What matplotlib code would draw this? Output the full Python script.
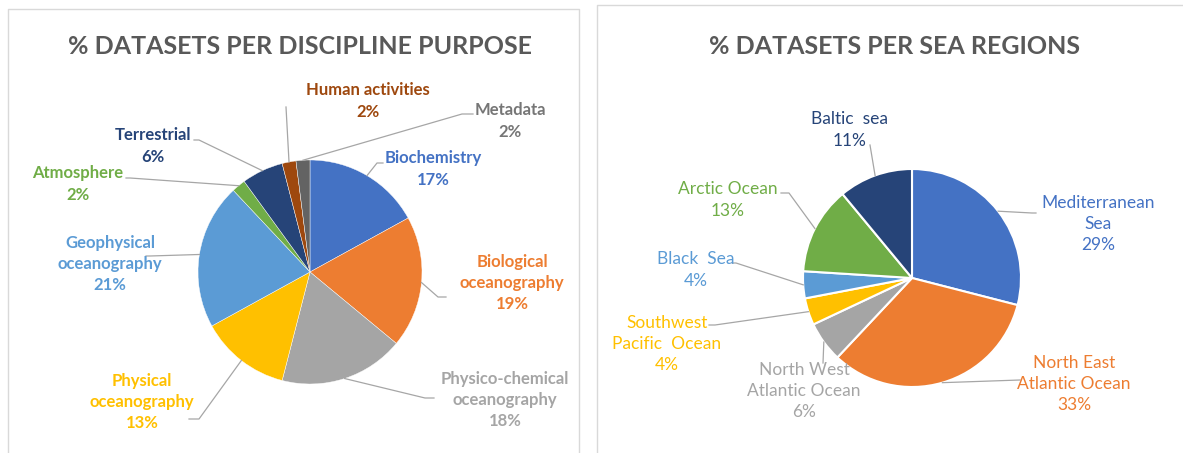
import matplotlib.pyplot as plt
import numpy as np

plt.rcParams['font.family'] = ['Lato', 'DejaVu Sans']

# left chart: datasets per discipline purpose
disc_names = ['Biochemistry', 'Biological\noceanography', 'Physico-chemical\noceanography',
              'Physical\noceanography', 'Geophysical\noceanography', 'Atmosphere',
              'Terrestrial', 'Human activities', 'Metadata']
disc_pct = [17, 19, 18, 13, 21, 2, 6, 2, 2]

# right chart: datasets per sea region
sea_names = ['Mediterranean\nSea', 'North East\nAtlantic Ocean', 'North West\nAtlantic Ocean',
             'Southwest\nPacific  Ocean', 'Black  Sea', 'Arctic Ocean', 'Baltic  sea']
sea_pct = [29, 33, 6, 4, 4, 13, 11]

office = ['#4472C4', '#ED7D31', '#A5A5A5', '#FFC000', '#5B9BD5', '#70AD47', '#264478', '#9E480E', '#636363']
disc_text_colors = office[:8] + ['#767676']
sea_text_colors = office[:7]

# layout in pixel coords (y down): label centres and leader elbow / end points
disc_label_xy = [(433, 169), (512, 283), (505, 400), (142, 402), (110, 264),
                 (78, 184), (153, 146), (368, 101), (510, 121)]
disc_leader = [((377, 163), (383, 163)), ((438, 297), (446, 297)), ((425, 398), (434, 398)),
               ((199, 419), (189, 419)), ((150, 256), (146, 256)), ((130, 178), (126, 178)),
               ((199, 140), (194, 140)), ((286, 107), (286, 107)), ((462, 114), (473, 114))]
sea_label_xy = [(1098, 224), (1074, 384), (804, 391), (667, 344), (696, 270), (728, 200), (850, 130)]
sea_leader = [((1032, 213), (1036, 213)), ((1020, 380), (1020, 380)), ((823, 363), (823, 363)),
              ((715, 325), (709, 325)), ((736, 263), (732, 263)), ((789, 193), (781, 193)),
              ((870, 145), (870, 145))]


def draw_pie(ax, names, values, colors, text_colors, center, radius, label_xy, leader,
             weight, size, edge):
    ax.pie(values, colors=colors, startangle=-90, counterclock=True, center=center,
           radius=radius, wedgeprops=dict(edgecolor='white', linewidth=edge))
    total = float(sum(values))
    cum = np.cumsum([0] + list(values))
    for i, (name, v) in enumerate(zip(names, values)):
        # mid angle, clockwise from 12 o'clock
        a = np.radians((cum[i] + v / 2) / total * 360)
        px = center[0] + radius * np.sin(a)
        py = center[1] - radius * np.cos(a)
        (ex, ey), (fx, fy) = leader[i]
        ax.plot([px, ex, fx], [py, ey, fy], color='#A6A6A6', lw=0.9, zorder=3)
        ax.text(label_xy[i][0], label_xy[i][1], f'{name}\n{v}%', ha='center', va='center',
                color=text_colors[i], fontsize=size, fontweight=weight, linespacing=1.42, zorder=4)


fig = plt.figure(figsize=(11.83, 4.53), dpi=100)
ax = fig.add_axes([0, 0, 1, 1])

draw_pie(ax, disc_names, disc_pct, office, disc_text_colors, (310, 272), 112,
         disc_label_xy, disc_leader, 'bold', 12, 0.3)
draw_pie(ax, sea_names, sea_pct, office[:7], sea_text_colors, (912, 278), 109,
         sea_label_xy, sea_leader, 'normal', 12.5, 1.5)

# chart area borders
ax.plot([8, 8, 579, 579], [460, 9, 9, 460], color='#D9D9D9', lw=1)
ax.plot([597, 597, 1190], [460, 5, 5], color='#D9D9D9', lw=1)

ax.text(300, 46, '% DATASETS PER DISCIPLINE PURPOSE', ha='center', va='center',
        fontsize=18, fontweight='bold', color='#595959')
ax.text(895, 47, '% DATASETS PER SEA REGIONS', ha='center', va='center',
        fontsize=18, fontweight='bold', color='#595959')

ax.set_xlim(0, 1183)
ax.set_ylim(453, 0)
ax.set_aspect('equal')
ax.axis('off')

fig.savefig('out.png', dpi=100)
